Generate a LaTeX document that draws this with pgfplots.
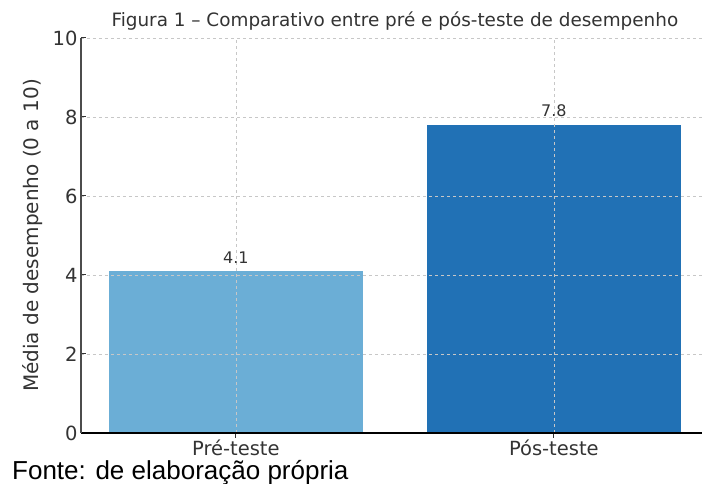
\documentclass[border=0pt]{standalone}
\usepackage{fontspec}
\setmainfont{DejaVu Sans}
\newfontfamily\arialfont{Liberation Sans}
\usepackage{pgfplots}
\pgfplotsset{compat=1.18}
\definecolor{preblue}{HTML}{6BAED6}
\definecolor{posblue}{HTML}{2171B5}
\definecolor{txt}{HTML}{333333}
\begin{document}
\begin{tikzpicture}
\path[use as bounding box] (-81pt,-51pt) rectangle (621pt,433pt);
\begin{axis}[
  at={(0,0)}, anchor=south west,
  scale only axis,
  width=621pt, height=395pt,
  xmin=-0.487, xmax=1.466,
  ymin=0, ymax=10,
  ytick={0,2,4,6,8,10},
  xtick={0,1},
  xticklabels={Pré-teste, Pós-teste},
  axis x line*=bottom, axis y line*=left,
  x axis line style={black, line width=1.1pt, -},
  y axis line style={black!70, line width=1.6pt, -},
  major tick length=5pt,
  tick style={black!80, line width=1pt},
  grid=major,
  grid style={dashed, black!22, line width=0.6pt},
  axis on top,
  ybar, bar width=0.8, bar shift=0pt,
  /pgf/number format/assume math mode=true,
  ticklabel style={font=\fontsize{19.5}{23}\selectfont, text=txt},
  xticklabel style={anchor=base, yshift=-18pt, inner sep=0pt},
  clip=false,
  nodes near coords={\pgfmathprintnumber[fixed,fixed zerofill,precision=1]{\pgfplotspointmeta}},
  nodes near coords style={font=\fontsize{16}{19}\selectfont, text=txt, anchor=base, yshift=8pt},
]
\addplot[fill=preblue, draw=none] coordinates {(0,4.1)};
\addplot[fill=posblue, draw=none] coordinates {(1,7.8)};
\end{axis}
\node[rotate=90, anchor=center, font=\fontsize{20}{24}\selectfont, text=txt] at (-48pt,197.5pt) {Média de desempenho (0 a 10)};
\node[anchor=base, font=\fontsize{18.4}{22}\selectfont, text=txt] at (313.9pt,406pt) {Figura 1 – Comparativo entre pré e pós-teste de desempenho};
\node[anchor=base west, inner sep=0pt, font=\arialfont\fontsize{26}{30}\selectfont] at (-69pt,-46.3pt) {Fonte: de elaboração própria};
\end{tikzpicture}
\end{document}
